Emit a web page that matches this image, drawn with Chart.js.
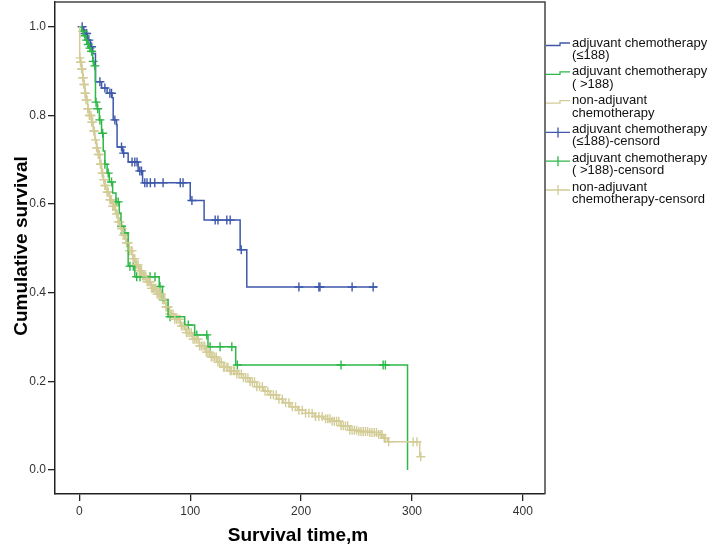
<!DOCTYPE html>
<html>
<head>
<meta charset="utf-8">
<script src="https://cdn.jsdelivr.net/npm/chart.js@4"></script>
<style>
  body { margin: 0; background: #fff; }
  canvas { display: block; }
</style>
</head>
<body>
<canvas id="kmChart" width="709" height="550"></canvas>
<script>
// axis ticks
var xTicks = [0, 100, 200, 300, 400];
var yTicks = [0, 0.2, 0.4, 0.6, 0.8, 1.0];

// adjuvant chemotherapy (<=188): event times and survival after each step
var lowTime = [0, 4, 7, 10, 12, 14.5, 20, 25, 29.5, 30.5, 33.5, 34, 39, 44, 53, 57, 100, 112.5, 145, 151, 268.5];
var lowSurv = [1.0, 0.985, 0.97, 0.955, 0.94, 0.876, 0.862, 0.85, 0.84, 0.79, 0.779, 0.729, 0.715, 0.695, 0.675, 0.648, 0.608, 0.564, 0.497, 0.413, 0.413];
var lowCensor = [2.5, 5, 6.5, 8.5, 11, 18.5, 23, 27.5, 29, 32, 38, 40, 47.5, 50, 52, 54.5, 56, 59, 61, 64, 68, 75.5, 91, 93.5, 101.5, 122.5, 125, 133, 136, 146, 198, 216, 217, 246, 265];

// adjuvant chemotherapy (>188)
var highTime = [0, 2, 4, 6, 7.5, 9, 10.5, 12, 13.5, 14.5, 16, 18, 20, 21.5, 23, 25, 27, 30, 33, 36, 37.5, 40, 44, 50, 72, 75, 80, 95, 104, 116, 141, 296];
var highSurv = [1.0, 0.99, 0.98, 0.97, 0.96, 0.952, 0.945, 0.922, 0.912, 0.83, 0.815, 0.79, 0.76, 0.72, 0.69, 0.67, 0.65, 0.625, 0.605, 0.58, 0.55, 0.535, 0.46, 0.436, 0.414, 0.384, 0.346, 0.327, 0.305, 0.278, 0.237, 0.0];
var highCensor = [3.4, 5, 6.5, 8, 9.5, 11, 12.5, 14, 15, 16.5, 18.5, 21, 23, 26, 29, 33, 35, 38, 41, 45.6, 48.6, 51.7, 54.7, 63.7, 68.2, 72.7, 75.7, 81.8, 98.3, 105.9, 114.9, 117.9, 126.9, 137.5, 142.5, 236, 274, 276];

// non-adjuvant chemotherapy
var nonTime = [0, 0.3, 1, 2, 3, 4, 5, 6, 7.5, 9, 11, 12.5, 14, 15.5, 17, 18.5, 20, 21.5, 23, 25, 27.5, 30, 32.5, 35, 37, 39.5, 42, 45, 48, 51, 54, 57, 60.5, 65, 70, 75, 78, 81.5, 86, 91, 96, 102, 108, 114, 119, 124, 130, 136, 142, 148, 154, 160, 166, 172, 178, 184, 190, 197, 204, 212, 220, 228, 236, 244, 252, 262, 270, 274, 278, 307];
var nonSurv = [1.0, 0.93, 0.92, 0.905, 0.885, 0.87, 0.85, 0.835, 0.815, 0.8, 0.785, 0.765, 0.745, 0.727, 0.712, 0.69, 0.67, 0.655, 0.642, 0.627, 0.61, 0.595, 0.578, 0.56, 0.545, 0.53, 0.513, 0.495, 0.477, 0.463, 0.45, 0.438, 0.425, 0.41, 0.397, 0.385, 0.368, 0.352, 0.34, 0.325, 0.31, 0.295, 0.28, 0.266, 0.255, 0.243, 0.232, 0.224, 0.217, 0.208, 0.199, 0.188, 0.178, 0.17, 0.16, 0.152, 0.143, 0.135, 0.128, 0.121, 0.116, 0.11, 0.1, 0.09, 0.087, 0.085, 0.08, 0.072, 0.064, 0.03];
var nonCensor = [
    0.5, 1, 1.5, 2, 2.5, 3, 3.5, 4, 4.5, 5, 5.5, 6, 7, 7.5, 8, 9, 9.5, 10.5, 11, 12, 13, 13.5, 14.5, 15.5, 16, 17, 18, 19, 19.5,
    20.5, 21, 22, 23, 23.5, 25, 25.5, 26, 27.5, 28, 29, 30, 30.5, 31.5, 32, 33.5, 34, 35, 36, 36.5, 38, 38.5, 39.5, 40.5, 41,
    42.5, 43, 44, 45, 45.5, 47, 47.5, 48.5, 49.5, 50, 51, 52, 53, 54, 55, 56, 57, 58, 59, 60, 61, 62, 63, 64, 65, 66, 67, 68,
    69, 70, 71, 72, 73, 74, 75, 76, 77, 78, 79, 80, 81.5, 83, 84.5, 86, 87.5, 89, 90.5, 92, 93.5, 95, 96.5, 98, 99.5, 101,
    102.5, 104, 105.5, 107, 108.5, 110, 111.5, 113, 114.5, 116, 117.5, 119, 120.5, 122, 123.5, 125, 126.5, 128, 130, 131, 133,
    134, 136, 137, 139, 140, 142, 144, 146, 148, 150, 152, 154, 156, 158, 160, 162.5, 165, 167.5, 170, 172.5, 175, 177.5, 180,
    183, 186, 189, 192, 195, 198, 201, 204, 207, 210, 213, 216, 219, 222, 224, 226, 228, 230, 232, 234, 236, 238, 240, 242,
    244, 246, 248, 250, 252, 254, 256, 258, 260, 262, 264, 266, 268, 270, 272, 273, 275, 276, 279, 301, 304.5, 308
];

var legendLabels = [
    ['adjuvant chemotherapy', '(≤188)'],
    ['adjuvant chemotherapy', '( >188)'],
    ['non-adjuvant', 'chemotherapy'],
    ['adjuvant chemotherapy', '(≤188)-censord'],
    ['adjuvant chemotherapy', '( >188)-censord'],
    ['non-adjuvant', 'chemotherapy-censord']
];

var BLUE = 'rgb(62, 88, 172)';
var GREEN = 'rgb(46, 184, 72)';
var BEIGE = 'rgb(211, 204, 150)';
var FONT = 'Arial, "Liberation Sans", sans-serif';

function curve(times, surv) {
    return times.map(function (t, i) { return {x: t, y: surv[i]}; });
}

// survival value of the step function at time t
function survAt(times, surv, t) {
    var s = surv[0];
    for (var i = 0; i < times.length; i++) {
        if (times[i] <= t) s = surv[i];
    }
    return s;
}

function marks(censor, times, surv) {
    return censor.map(function (t) { return {x: t, y: survAt(times, surv, t)}; });
}

function lineSet(data, color) {
    return {data: data, showLine: true, stepped: 'before', borderColor: color, borderWidth: 1.5, pointRadius: 0, fill: false};
}

function markSet(data, color) {
    return {data: data, showLine: false, pointStyle: 'cross', pointRadius: 4.5, pointBorderWidth: 1.4, borderColor: color, backgroundColor: color};
}

var extras = {
    id: 'extras',
    afterDraw: function (chart) {
        var ctx = chart.ctx;
        var area = chart.chartArea;
        ctx.save();
        // frame top/right
        ctx.strokeStyle = '#444';
        ctx.lineWidth = 1.5;
        ctx.beginPath();
        ctx.moveTo(area.left, area.top);
        ctx.lineTo(area.right, area.top);
        ctx.lineTo(area.right, area.bottom);
        ctx.stroke();

        // axis titles
        ctx.fillStyle = '#000';
        ctx.font = 'bold 19px ' + FONT;
        ctx.textAlign = 'center';
        ctx.textBaseline = 'middle';
        ctx.fillText('Survival time,m', 298, 536);
        ctx.save();
        ctx.translate(22, 246);
        ctx.rotate(-Math.PI / 2);
        ctx.fillText('Cumulative survival', 0, 0);
        ctx.restore();

        // legend
        var colors = [BLUE, GREEN, BEIGE, BLUE, GREEN, BEIGE];
        ctx.font = '13px ' + FONT;
        ctx.textAlign = 'left';
        for (var i = 0; i < legendLabels.length; i++) {
            var c = 43 + i * 28.8;
            ctx.strokeStyle = colors[i];
            ctx.lineWidth = 1.3;
            ctx.beginPath();
            if (i < 3) {
                ctx.moveTo(546, c + 2.5);
                ctx.lineTo(560, c + 2.5);
                ctx.lineTo(560, c);
                ctx.lineTo(570, c);
            } else {
                ctx.moveTo(546, c + 3);
                ctx.lineTo(570, c + 3);
                ctx.moveTo(558, c - 2);
                ctx.lineTo(558, c + 8);
            }
            ctx.stroke();
            ctx.fillStyle = '#111';
            ctx.fillText(legendLabels[i][0], 572, c);
            ctx.fillText(legendLabels[i][1], 572, c + 12.5);
        }
        ctx.restore();
    }
};

new Chart(
    document.getElementById('kmChart'),
    {
        type: 'scatter',
        data: {
            datasets: [
                lineSet(curve(nonTime, nonSurv), BEIGE),
                lineSet(curve(highTime, highSurv), GREEN),
                lineSet(curve(lowTime, lowSurv), BLUE),
                markSet(marks(nonCensor, nonTime, nonSurv), BEIGE),
                markSet(marks(highCensor, highTime, highSurv), GREEN),
                markSet(marks(lowCensor, lowTime, lowSurv), BLUE)
            ]
        },
        options: {
            responsive: false,
            animation: false,
            layout: {autoPadding: false, padding: {top: 2, right: 164, left: 0, bottom: 0}},
            plugins: {legend: {display: false}, tooltip: {enabled: false}},
            scales: {
                x: {
                    type: 'linear',
                    min: -22,
                    max: 420,
                    afterBuildTicks: function (s) { s.ticks = xTicks.map(function (v) { return {value: v}; }); },
                    afterFit: function (s) { s.height = 56; s.paddingLeft = 0; s.paddingRight = 0; },
                    grid: {drawOnChartArea: false, tickLength: 7, color: '#222', lineWidth: 1.3},
                    border: {color: '#222', width: 1.5},
                    ticks: {font: {size: 12, family: FONT}, color: '#333', padding: 3, maxRotation: 0}
                },
                y: {
                    min: -0.054,
                    max: 1.056,
                    afterBuildTicks: function (s) { s.ticks = yTicks.map(function (v) { return {value: v}; }); },
                    afterFit: function (s) { s.width = 55; s.paddingTop = 0; s.paddingBottom = 0; },
                    grid: {drawOnChartArea: false, tickLength: 7, color: '#222', lineWidth: 1.3},
                    border: {color: '#222', width: 1.5},
                    ticks: {font: {size: 12, family: FONT, lineHeight: 0.2}, color: '#333', padding: 2, callback: function (v) { return v.toFixed(1); }}
                }
            }
        },
        plugins: [extras]
    }
);
</script>
</body>
</html>
